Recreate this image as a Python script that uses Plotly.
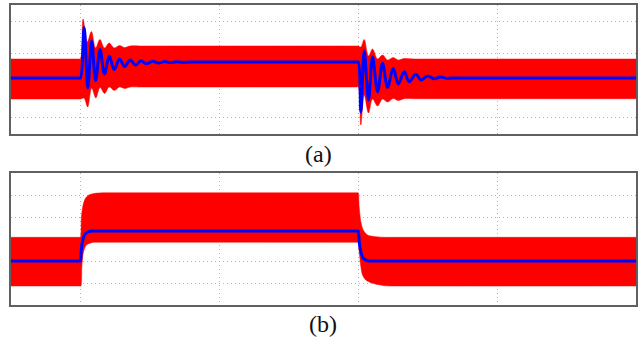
import plotly.graph_objects as go

# ---------------- Panel (a) data (time in s, arbitrary units) ----------------
blue_a_t = [-0.01, 0.0489, 0.05, 0.0527, 0.0553, 0.0581, 0.0609, 0.0641, 0.0673,
            0.0707, 0.0743, 0.0781, 0.0818, 0.0857, 0.0896, 0.0936, 0.0977, 0.1018,
            0.1062, 0.1105, 0.1148, 0.1191, 0.1234, 0.1292, 0.135,
            0.2489, 0.25, 0.2519, 0.2543, 0.2574, 0.2603, 0.2639, 0.2675, 0.2711,
            0.2752, 0.2788, 0.2831, 0.2867, 0.2915, 0.2951, 0.2999, 0.3047, 0.3090,
            0.3141, 0.3191, 0.325, 0.46]
blue_a_v = [-0.264, -0.264, -0.264, 1.302, -0.574, 0.884, -0.341, 0.620, -0.140,
            0.419, 0.0, 0.326, 0.093, 0.295, 0.140, 0.273, 0.177, 0.257,
            0.202, 0.245, 0.214, 0.239, 0.223, 0.233, 0.233,
            0.233, 0.233, -1.309, 0.583, -0.946, 0.397, -0.688, 0.192, -0.552,
            0.037, -0.450, -0.068, -0.378, -0.140, -0.326, -0.202, -0.285, -0.233,
            -0.273, -0.260, -0.264, -0.264]

red_a_top_t = [-0.01, 0.0489, 0.05, 0.0519, 0.0549, 0.0579, 0.0609, 0.0640, 0.0673,
               0.0707, 0.0743, 0.0781, 0.0818, 0.0857, 0.0932, 0.100, 0.2489, 0.25, 0.2519,
               0.2543, 0.2574, 0.2603, 0.2639, 0.2675, 0.2711, 0.2752, 0.2788, 0.2831,
               0.2903, 0.300, 0.46]
red_a_top_v = [0.326, 0.326, 0.326, 1.566, 0.853, 1.178, 0.667, 0.930, 0.667,
               0.822, 0.667, 0.744, 0.682, 0.729, 0.729, 0.729, 0.729, 0.729, 0.698,
               0.930, 0.419, 0.636, 0.326, 0.450, 0.295, 0.372, 0.295, 0.341,
               0.326, 0.326, 0.326]

red_a_bot_t = [-0.01, 0.0489, 0.05, 0.0525, 0.0552, 0.0581, 0.0611, 0.0641, 0.0674,
               0.0707, 0.0745, 0.0781, 0.0820, 0.0860, 0.092, 0.2489, 0.25, 0.2519, 0.2543,
               0.2574, 0.2603, 0.2639, 0.2675, 0.2711, 0.2752, 0.2788, 0.2831, 0.2903,
               0.300, 0.46]
red_a_bot_v = [-0.915, -0.915, -0.915, -0.884, -1.163, -0.574, -0.884, -0.558, -0.744,
               -0.543, -0.651, -0.543, -0.589, -0.543, -0.543, -0.543, -0.543, -1.721, -0.791,
               -1.349, -0.915, -1.132, -0.915, -1.008, -0.899, -0.961, -0.905, -0.905,
               -0.905, -0.905]

# ---------------- Panel (b) data ----------------
blue_b_t = [-0.01, 0.0495, 0.05, 0.0505, 0.0514, 0.0529, 0.0548, 0.0584, 0.064, 0.2495,
            0.25, 0.2507, 0.2519, 0.2536, 0.2567, 0.2612, 0.266, 0.46]
blue_b_v = [2.0, 2.0, 2.0, 2.423, 2.877, 3.182, 3.305, 3.364, 3.364, 3.364,
            3.364, 2.877, 2.423, 2.123, 2.014, 2.0, 2.0, 2.0]

red_b_top_t = [-0.01, 0.0495, 0.05, 0.0507, 0.0519, 0.0536, 0.0560, 0.0608, 0.0666, 0.072,
               0.2495, 0.25, 0.2507, 0.2519, 0.2536, 0.2567, 0.2627, 0.2699, 0.276, 0.46]
red_b_top_v = [3.077, 3.077, 3.077, 4.014, 4.545, 4.850, 5.0, 5.077, 5.1, 5.1,
               5.1, 5.1, 4.468, 3.786, 3.409, 3.182, 3.105, 3.077, 3.077, 3.077]

red_b_bot_t = [-0.01, 0.0499, 0.0504, 0.0511, 0.0522, 0.0543, 0.0586, 0.064, 0.2495, 0.25,
               0.2507, 0.2519, 0.2531, 0.2555, 0.2603, 0.2699, 0.276, 0.46]
red_b_bot_v = [0.864, 0.864, 0.864, 1.818, 2.409, 2.727, 2.84, 2.85, 2.85, 2.85,
               2.423, 1.741, 1.364, 1.136, 0.986, 0.87, 0.864, 0.864]

x_grid = [0.05, 0.15, 0.25, 0.35]
ya_grid = [-1.5, -0.5, 0.5, 1.5]
yb_grid = [1, 2, 3, 4, 5]
labels = ["(a)", "(b)"]

RED = "#ff0000"
BLUE = "#0000ff"
SERIF = "Liberation Serif, Times New Roman, Times, DejaVu Serif, serif"

fig = go.Figure()

# panel (a)
fig.add_trace(go.Scatter(x=red_a_top_t, y=red_a_top_v, mode="lines",
                         line=dict(color=RED, width=0.5, shape="spline", smoothing=1.0),
                         xaxis="x", yaxis="y", hoverinfo="skip", showlegend=False))
fig.add_trace(go.Scatter(x=red_a_bot_t, y=red_a_bot_v, mode="lines", fill="tonexty",
                         fillcolor=RED,
                         line=dict(color=RED, width=0.5, shape="spline", smoothing=1.0),
                         xaxis="x", yaxis="y", hoverinfo="skip", showlegend=False))
fig.add_trace(go.Scatter(x=blue_a_t, y=blue_a_v, mode="lines",
                         line=dict(color=BLUE, width=3, shape="spline", smoothing=1.0),
                         xaxis="x", yaxis="y", showlegend=False))

# panel (b)
fig.add_trace(go.Scatter(x=red_b_top_t, y=red_b_top_v, mode="lines",
                         line=dict(color=RED, width=0.5, shape="spline", smoothing=0.8),
                         xaxis="x2", yaxis="y2", hoverinfo="skip", showlegend=False))
fig.add_trace(go.Scatter(x=red_b_bot_t, y=red_b_bot_v, mode="lines", fill="tonexty",
                         fillcolor=RED,
                         line=dict(color=RED, width=0.5, shape="spline", smoothing=0.8),
                         xaxis="x2", yaxis="y2", hoverinfo="skip", showlegend=False))
fig.add_trace(go.Scatter(x=blue_b_t, y=blue_b_v, mode="lines",
                         line=dict(color=BLUE, width=3, shape="spline", smoothing=0.8),
                         xaxis="x2", yaxis="y2", showlegend=False))

axis_common = dict(showticklabels=False, ticks="", showgrid=True,
                   gridcolor="#b4b4b4", griddash="1px,3px", gridwidth=1,
                   showline=True, mirror=True, linecolor="#606060", linewidth=1.5,
                   zeroline=False)

xdom = [11 / 642, 636 / 642]
fig.update_layout(
    width=642, height=338,
    margin=dict(l=0, r=0, t=0, b=0),
    paper_bgcolor="white", plot_bgcolor="white",
    xaxis=dict(domain=xdom, range=[0, 0.45], tickvals=x_grid, anchor="y", **axis_common),
    yaxis=dict(domain=[1 - 134 / 338, 1 - 5 / 338], range=[-2, 2], tickvals=ya_grid,
               anchor="x", **axis_common),
    xaxis2=dict(domain=xdom, range=[0, 0.45], tickvals=x_grid, anchor="y2", **axis_common),
    yaxis2=dict(domain=[1 - 305 / 338, 1 - 173 / 338], range=[0, 6], tickvals=yb_grid,
                anchor="x2", **axis_common),
    annotations=[
        dict(text=labels[0], x=318 / 642, y=1 - 153.5 / 338, xref="paper", yref="paper",
             showarrow=False, xanchor="center", yanchor="middle",
             font=dict(family=SERIF, size=24, color="#111111")),
        dict(text=labels[1], x=323 / 642, y=1 - 324 / 338, xref="paper", yref="paper",
             showarrow=False, xanchor="center", yanchor="middle",
             font=dict(family=SERIF, size=24, color="#111111")),
    ],
)

fig.write_html("out.html")
